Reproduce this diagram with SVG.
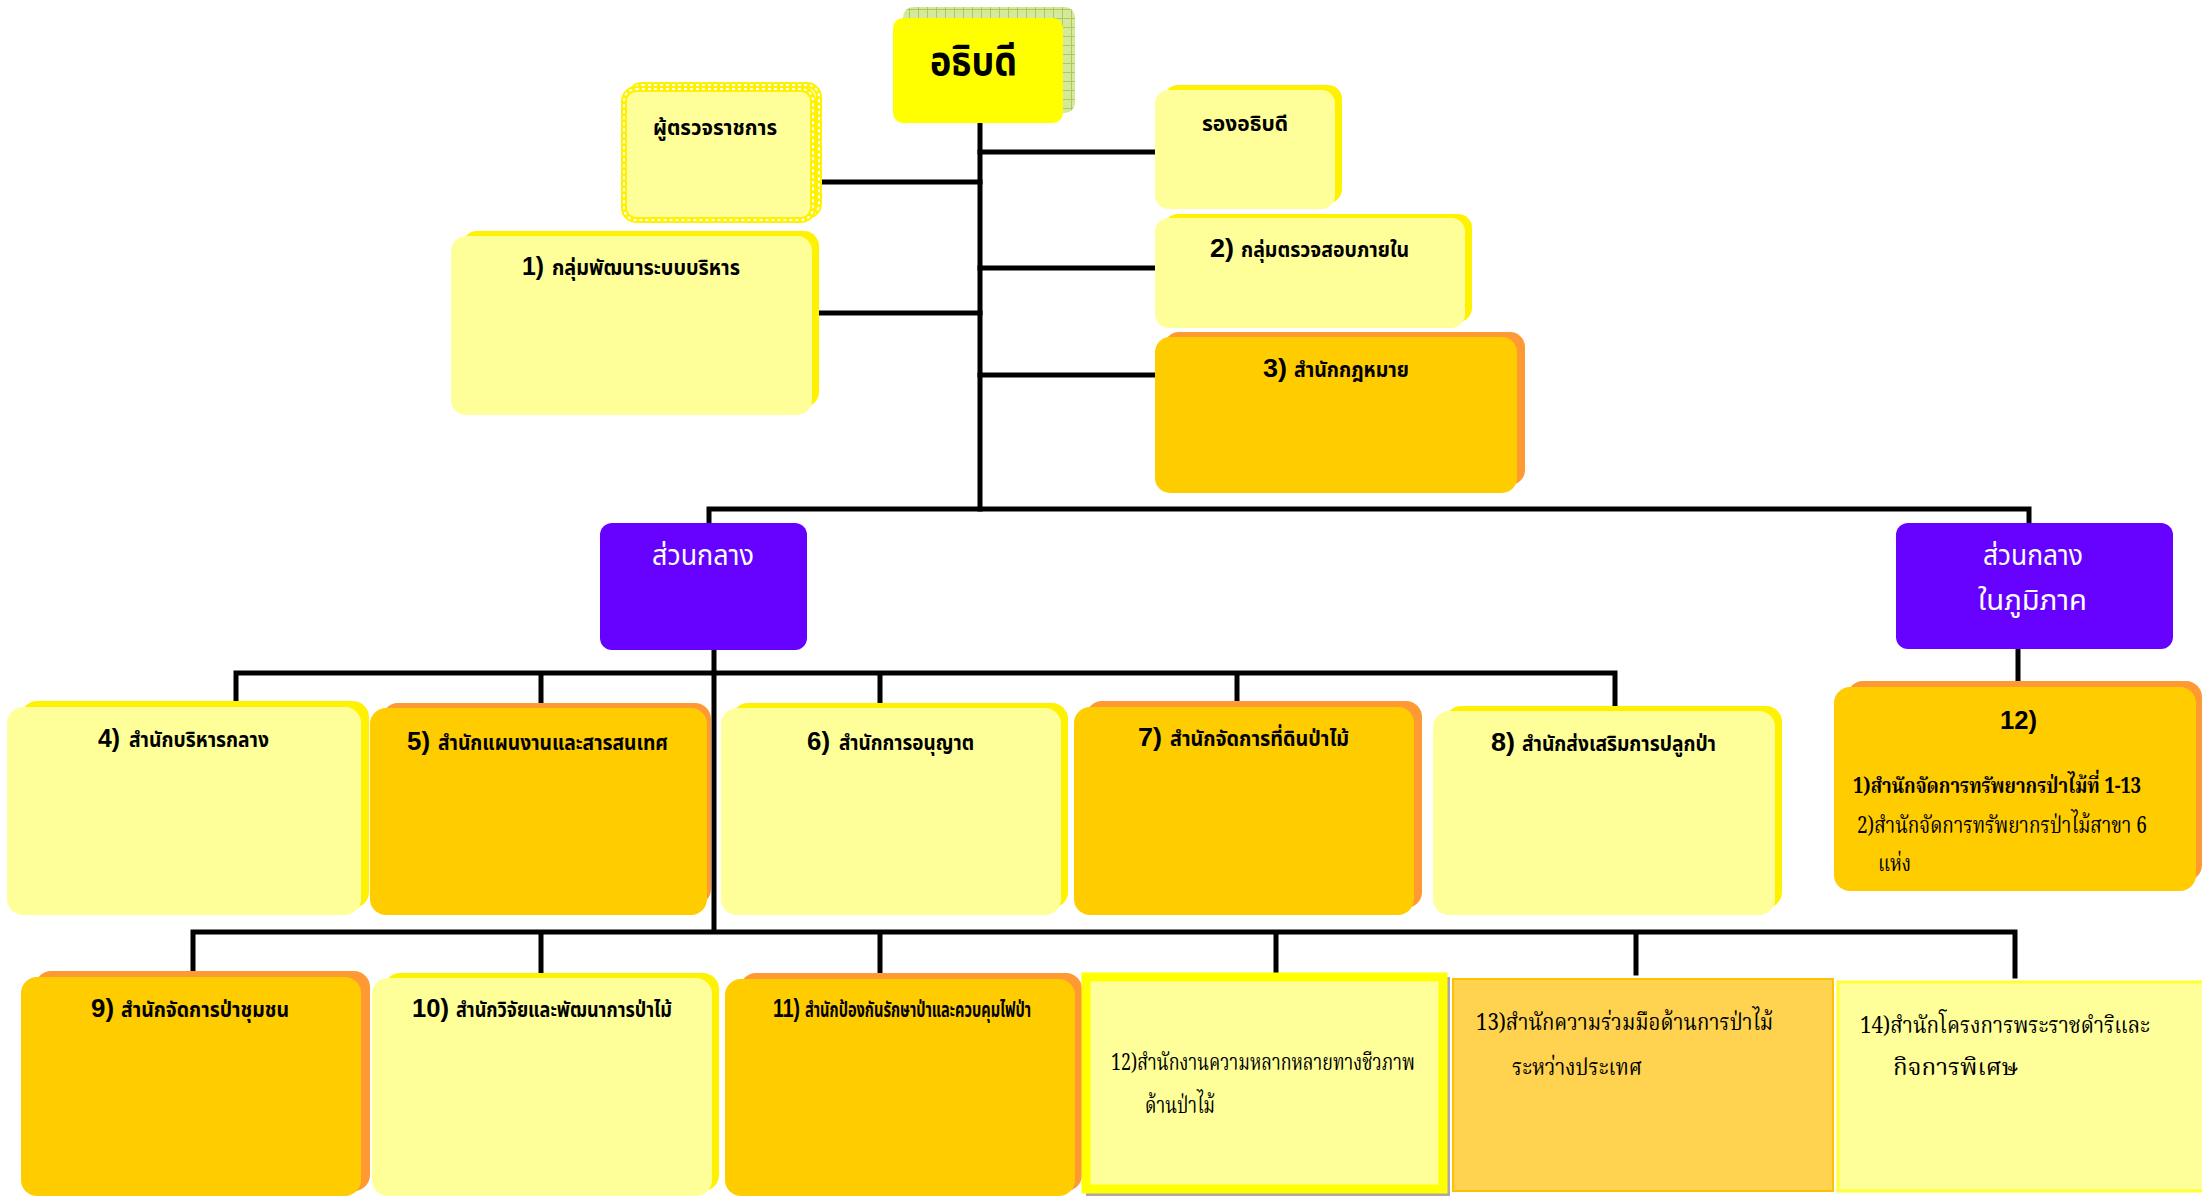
<svg xmlns="http://www.w3.org/2000/svg" width="2202" height="1197" viewBox="0 0 2202 1197">
<defs>
<pattern id="grid" width="9" height="9" patternUnits="userSpaceOnUse">
<rect width="9" height="9" fill="#D6E89C"/>
<path d="M0 0.5H9M0.5 0V9" stroke="#A8CC55" stroke-width="1"/>
</pattern>
<style>
.fy{fill:#FFFF99}
.by{fill:#FFF200}
.fo{fill:#FFCC00}
.bo{fill:#FF9933}
.pu{fill:#6600FF}
.ln{stroke:#000;stroke-width:5;fill:none;stroke-linecap:square}
.num{font-family:"Liberation Sans","DejaVu Sans",sans-serif;font-weight:bold;font-size:26px;fill:#000}
.th{font-family:"Noto Sans Thai","Noto Sans","DejaVu Sans",sans-serif;font-weight:bold;font-size:21px;fill:#000}
.ths{font-family:"Noto Serif Thai","Liberation Serif","Noto Serif",serif;font-size:23px;fill:#000}
.thsb{font-family:"Noto Serif Thai","Liberation Serif","Noto Serif",serif;font-weight:bold;font-size:22px;fill:#000}
.wh{font-family:"Noto Sans Thai","Noto Sans","DejaVu Sans",sans-serif;font-size:28px;fill:#fff}
</style>
</defs>
<rect width="2202" height="1197" fill="#fff"/>

<g id="connectors">
<path class="ln" d="M980 123V509"/>
<path class="ln" d="M980 152H1155M821 182H980M980 268H1155M819 313H980M980 375H1155"/>
<path class="ln" d="M709 523V509H2029V523"/>
<path class="ln" d="M714 650V929"/>
<path class="ln" d="M236 707V673H1615V706M541 673V713M880 673V713M1237 673V711"/>
<path class="ln" d="M2018 649V681"/>
<path class="ln" d="M193 975V932H2015V976M541 932V975M880 932V975M1276 932V976M1636 932V973"/>
</g>

<g id="n-director">
<rect x="903" y="7" width="172" height="106" rx="10" fill="url(#grid)"/>
<rect x="893" y="18" width="170" height="105" rx="10" fill="#FFFF00"/>
<text x="930" y="75" font-family="Noto Sans Thai,Noto Sans,DejaVu Sans,sans-serif" font-size="40" font-weight="bold" textLength="87" lengthAdjust="spacingAndGlyphs">อธิบดี</text>
</g>

<g id="n-inspector">
<rect x="630" y="85" width="189" height="131" rx="12" fill="none" stroke="#FFF200" stroke-width="6"/>
<rect x="630" y="85" width="189" height="131" rx="12" fill="none" stroke="#fff" stroke-width="2" stroke-dasharray="3 3"/>
<rect x="624" y="89" width="189" height="131" rx="12" class="fy" stroke="#FFF200" stroke-width="6"/>
<rect x="624" y="89" width="189" height="131" rx="12" fill="none" stroke="#fff" stroke-width="2" stroke-dasharray="3 3"/>
<text class="th" x="653" y="135" font-size="23" textLength="124" lengthAdjust="spacingAndGlyphs">ผู้ตรวจราชการ</text>
</g>

<g id="n-deputy">
<rect x="1164" y="85" width="178" height="118" rx="14" class="by"/>
<rect x="1155" y="90" width="180" height="119" rx="14" class="fy"/>
<text class="th" x="1202" y="131" font-size="22" textLength="86" lengthAdjust="spacingAndGlyphs">รองอธิบดี</text>
</g>

<g id="n-1">
<rect x="462" y="231" width="357" height="176" rx="15" class="by"/>
<rect x="451" y="236" width="361" height="179" rx="15" class="fy"/>
<text y="275"><tspan class="num" x="522" textLength="22" lengthAdjust="spacingAndGlyphs">1)</tspan><tspan class="th" x="552" textLength="188" lengthAdjust="spacingAndGlyphs">กลุ่มพัฒนาระบบบริหาร</tspan></text>
</g>

<g id="n-2">
<rect x="1164" y="214" width="308" height="108" rx="14" class="by"/>
<rect x="1155" y="218" width="310" height="110" rx="14" class="fy"/>
<text y="257"><tspan class="num" x="1210" textLength="24" lengthAdjust="spacingAndGlyphs">2)</tspan><tspan class="th" x="1241" textLength="168" lengthAdjust="spacingAndGlyphs">กลุ่มตรวจสอบภายใน</tspan></text>
</g>

<g id="n-3">
<rect x="1164" y="332" width="361" height="153" rx="15" class="bo"/>
<rect x="1155" y="337" width="362" height="156" rx="15" class="fo"/>
<text y="377"><tspan class="num" x="1263" textLength="24" lengthAdjust="spacingAndGlyphs">3)</tspan><tspan class="th" x="1294" textLength="115" lengthAdjust="spacingAndGlyphs">สำนักกฎหมาย</tspan></text>
</g>

<g id="n-central">
<rect x="600" y="523" width="207" height="127" rx="12" class="pu"/>
<text class="wh" x="652" y="565" textLength="102" lengthAdjust="spacingAndGlyphs">ส่วนกลาง</text>
</g>

<g id="n-regional">
<rect x="1896" y="523" width="277" height="126" rx="12" class="pu"/>
<text class="wh" x="1983" y="565" textLength="100" lengthAdjust="spacingAndGlyphs">ส่วนกลาง</text>
<text class="wh" x="1978" y="610" textLength="109" lengthAdjust="spacingAndGlyphs">ในภูมิภาค</text>
</g>

<g id="n-4">
<rect x="21" y="701" width="348" height="207" rx="16" class="by"/>
<rect x="7" y="707" width="354" height="208" rx="16" class="fy"/>
<text y="747"><tspan class="num" x="98" textLength="22" lengthAdjust="spacingAndGlyphs">4)</tspan><tspan class="th" x="129" textLength="140" lengthAdjust="spacingAndGlyphs">สำนักบริหารกลาง</tspan></text>
</g>

<g id="n-5">
<rect x="382" y="703" width="329" height="202" rx="16" class="bo"/>
<rect x="370" y="708" width="337" height="207" rx="16" class="fo"/>
<text y="750"><tspan class="num" x="407" textLength="23" lengthAdjust="spacingAndGlyphs">5)</tspan><tspan class="th" x="438" textLength="230" lengthAdjust="spacingAndGlyphs">สำนักแผนงานและสารสนเทศ</tspan></text>
</g>

<g id="n-6">
<rect x="732" y="703" width="336" height="205" rx="16" class="by"/>
<rect x="721" y="708" width="340" height="207" rx="16" class="fy"/>
<text y="750"><tspan class="num" x="807" textLength="23" lengthAdjust="spacingAndGlyphs">6)</tspan><tspan class="th" x="839" textLength="135" lengthAdjust="spacingAndGlyphs">สำนักการอนุญาต</tspan></text>
</g>

<g id="n-7">
<rect x="1086" y="701" width="336" height="207" rx="16" class="bo"/>
<rect x="1074" y="707" width="340" height="208" rx="16" class="fo"/>
<text y="746"><tspan class="num" x="1138" textLength="24" lengthAdjust="spacingAndGlyphs">7)</tspan><tspan class="th" x="1170" textLength="179" lengthAdjust="spacingAndGlyphs">สำนักจัดการที่ดินป่าไม้</tspan></text>
</g>

<g id="n-8">
<rect x="1445" y="706" width="337" height="202" rx="16" class="by"/>
<rect x="1433" y="711" width="342" height="204" rx="16" class="fy"/>
<text y="751"><tspan class="num" x="1491" textLength="24" lengthAdjust="spacingAndGlyphs">8)</tspan><tspan class="th" x="1522" textLength="194" lengthAdjust="spacingAndGlyphs">สำนักส่งเสริมการปลูกป่า</tspan></text>
</g>

<g id="n-12r">
<rect x="1847" y="681" width="355" height="200" rx="16" class="bo"/>
<rect x="1834" y="687" width="362" height="204" rx="16" class="fo"/>
<text class="num" x="2000" y="729" font-size="30" textLength="37" lengthAdjust="spacingAndGlyphs">12)</text>
<text class="thsb" x="1853" y="793" font-size="20" textLength="288" lengthAdjust="spacingAndGlyphs">1)สำนักจัดการทรัพยากรป่าไม้ที่ 1-13</text>
<text class="ths" x="1857" y="833" font-size="18" textLength="290" lengthAdjust="spacingAndGlyphs">2)สำนักจัดการทรัพยากรป่าไม้สาขา 6</text>
<text class="ths" x="1878" y="871" font-size="19" textLength="33" lengthAdjust="spacingAndGlyphs">แห่ง</text>
</g>

<g id="n-9">
<rect x="35" y="971" width="335" height="220" rx="16" class="bo"/>
<rect x="21" y="977" width="340" height="219" rx="16" class="fo"/>
<text y="1017"><tspan class="num" x="91" textLength="23" lengthAdjust="spacingAndGlyphs">9)</tspan><tspan class="th" x="121" textLength="168" lengthAdjust="spacingAndGlyphs">สำนักจัดการป่าชุมชน</tspan></text>
</g>

<g id="n-10">
<rect x="384" y="973" width="335" height="218" rx="16" class="by"/>
<rect x="372" y="978" width="340" height="218" rx="16" class="fy"/>
<text y="1017"><tspan class="num" x="412" textLength="37" lengthAdjust="spacingAndGlyphs">10)</tspan><tspan class="th" x="456" textLength="216" lengthAdjust="spacingAndGlyphs">สำนักวิจัยและพัฒนาการป่าไม้</tspan></text>
</g>

<g id="n-11">
<rect x="740" y="973" width="342" height="218" rx="16" class="bo"/>
<rect x="725" y="979" width="350" height="217" rx="16" class="fo"/>
<text y="1017"><tspan class="num" x="773" textLength="27" lengthAdjust="spacingAndGlyphs">11)</tspan><tspan class="th" x="805" textLength="226" lengthAdjust="spacingAndGlyphs">สำนักป้องกันรักษาป่าและควบคุมไฟป่า</tspan></text>
</g>

<g id="n-12b">
<rect x="1086" y="977" width="364" height="219" fill="#B0A6A6"/>
<rect x="1086" y="977" width="357" height="212" class="fy" stroke="#FFFF00" stroke-width="9"/>
<text class="ths" x="1111" y="1070" textLength="304" lengthAdjust="spacingAndGlyphs">12)สำนักงานความหลากหลายทางชีวภาพ</text>
<text class="ths" x="1145" y="1113" textLength="70" lengthAdjust="spacingAndGlyphs">ด้านป่าไม้</text>
</g>

<g id="n-13">
<rect x="1453" y="979" width="380" height="212" fill="#FFD34F" stroke="#FFC000" stroke-width="2"/>
<text class="ths" x="1476" y="1030" textLength="297" lengthAdjust="spacingAndGlyphs">13)สำนักความร่วมมือด้านการป่าไม้</text>
<text class="ths" x="1512" y="1075" textLength="130" lengthAdjust="spacingAndGlyphs">ระหว่างประเทศ</text>
</g>

<g id="n-14">
<rect x="1838" y="982" width="370" height="209" class="fy" stroke="#FFFF33" stroke-width="3"/>
<text class="ths" x="1860" y="1033" textLength="290" lengthAdjust="spacingAndGlyphs">14)สำนักโครงการพระราชดำริและ</text>
<text class="ths" x="1893" y="1075" textLength="125" lengthAdjust="spacingAndGlyphs">กิจการพิเศษ</text>
</g>
</svg>
